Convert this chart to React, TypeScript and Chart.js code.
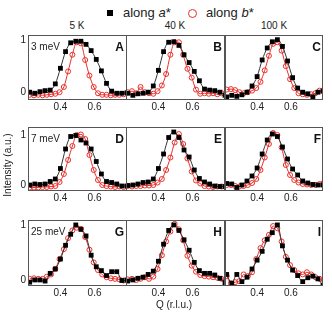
import React, { useEffect, useRef } from "react";
import { Chart, registerables } from "chart.js";
Chart.register(...registerables);

// Q grids (r.l.u.)
const qAlongA = [0.22, 0.25, 0.28, 0.31, 0.34, 0.37, 0.40, 0.43, 0.46, 0.49, 0.52, 0.55, 0.58, 0.61, 0.64, 0.67, 0.70, 0.73, 0.76, 0.79];
const qAlongB = [0.22, 0.245, 0.27, 0.295, 0.32, 0.345, 0.37, 0.395, 0.42, 0.445, 0.47, 0.495, 0.52, 0.545, 0.57, 0.595, 0.62, 0.645, 0.67, 0.695, 0.72, 0.745, 0.77, 0.795];

const temperatures = ["5 K", "40 K", "100 K"];
const energies = ["3 meV", "7 meV", "25 meV"];
const panelLetters = [["A", "B", "C"], ["D", "E", "F"], ["G", "H", "I"]];
const xTickValues = [0.4, 0.6];
const yTickValues = [0, 1];

// along a* (black squares)
const a3meV5K = [0.0, -0.02, 0.01, 0.03, 0.04, 0.16, 0.46, 0.78, 0.95, 0.98, 0.98, 0.92, 0.8, 0.63, 0.41, 0.17, 0.02, -0.02, -0.02, -0.01];
const a3meV40K = [-0.02, -0.06, -0.03, -0.02, 0.0, 0.12, 0.42, 0.78, 0.96, 0.97, 0.9, 0.72, 0.57, 0.4, 0.22, 0.06, 0.04, 0.03, 0.0, -0.06];
const a3meV100K = [-0.09, -0.06, -0.08, -0.05, 0.0, 0.12, 0.3, 0.62, 0.85, 0.97, 1.01, 0.88, 0.6, 0.28, 0.08, 0.0, -0.03, -0.09, 0.0, 0.02];
const a7meV5K = [0.0, 0.02, 0.01, 0.02, 0.07, 0.12, 0.33, 0.72, 0.97, 0.99, 0.9, 0.84, 0.72, 0.47, 0.22, 0.07, 0.05, 0.02, -0.02, -0.02];
const a7meV40K = [-0.01, 0.0, 0.02, 0.05, 0.06, 0.12, 0.33, 0.62, 0.95, 1.06, 0.95, 0.7, 0.56, 0.3, 0.13, 0.06, 0.02, -0.02, -0.03, -0.03];
const a7meV100K = [0.03, 0.02, -0.05, 0.0, 0.08, 0.18, 0.34, 0.62, 0.9, 1.02, 0.97, 0.76, 0.52, 0.32, 0.2, 0.08, 0.04, 0.01, 0.0, 0.0];
const a25meV5K = [-0.04, 0.0, 0.0, -0.02, 0.12, 0.2, 0.38, 0.63, 0.83, 1.0, 0.92, 0.8, 0.45, 0.24, 0.17, 0.08, 0.15, 0.15, -0.01, 0.0];
const a25meV40K = [-0.02, 0.0, 0.03, 0.05, 0.1, 0.16, 0.34, 0.65, 0.9, 1.0, 0.9, 0.73, 0.54, 0.32, 0.17, 0.12, 0.12, 0.09, 0.03, -0.05];
const a25meV100K = [0.1, -0.06, 0.1, -0.03, 0.05, 0.2, 0.36, 0.52, 0.74, 0.86, 1.0, 0.62, 0.36, 0.18, 0.08, -0.03, 0.04, 0.07, 0.02, -0.1];

// along b* (red open circles)
const b3meV5K = [-0.05, -0.06, -0.05, -0.06, -0.05, -0.04, -0.03, 0.0, 0.1, 0.4, 0.72, 0.96, 0.94, 0.62, 0.32, 0.1, -0.02, -0.05, -0.05, -0.06, -0.05, -0.05, -0.04, -0.02];
const b3meV40K = [0.0, 0.02, -0.02, 0.1, 0.0, -0.02, -0.03, 0.02, 0.13, 0.35, 0.72, 0.96, 0.96, 0.72, 0.45, 0.28, 0.05, -0.03, -0.02, -0.03, -0.02, -0.04, -0.02, -0.03];
const b3meV100K = [0.05, 0.06, 0.04, 0.0, -0.02, 0.0, 0.03, 0.08, 0.2, 0.42, 0.7, 0.93, 0.96, 0.8, 0.5, 0.25, 0.08, -0.02, -0.04, -0.05, -0.04, -0.02, 0.03, 0.05];
const b7meV5K = [-0.05, -0.05, -0.05, -0.04, -0.04, -0.03, -0.02, 0.06, 0.22, 0.5, 0.78, 1.0, 1.01, 0.92, 0.6, 0.3, 0.1, 0.0, -0.02, -0.03, -0.04, -0.03, -0.04, -0.03];
const b7meV40K = [-0.02, -0.03, -0.02, -0.02, -0.01, -0.01, 0.0, 0.05, 0.12, 0.3, 0.55, 0.85, 1.02, 0.82, 0.53, 0.27, 0.09, 0.03, -0.02, -0.03, -0.04, -0.03, -0.03, -0.02];
const b7meV100K = [0.0, 0.0, -0.02, -0.03, -0.02, 0.0, 0.04, 0.12, 0.3, 0.55, 0.82, 1.04, 1.0, 0.75, 0.4, 0.2, 0.1, 0.05, 0.02, 0.01, 0.0, 0.0, 0.02, 0.05];
const b25meV5K = [0.02, 0.03, 0.02, 0.02, 0.06, 0.1, 0.2, 0.38, 0.56, 0.76, 0.9, 0.95, 0.93, 0.78, 0.55, 0.32, 0.18, 0.1, 0.05, 0.03, 0.02, 0.01, -0.01, -0.02];
const b25meV40K = [0.01, 0.02, 0.0, 0.02, 0.05, 0.02, 0.06, 0.2, 0.45, 0.7, 0.88, 1.02, 0.92, 0.72, 0.44, 0.26, 0.15, 0.09, 0.07, 0.06, 0.05, 0.04, 0.02, 0.0];
const b25meV100K = [0.07, -0.06, -0.04, -0.02, 0.1, 0.07, 0.14, 0.38, 0.58, 0.72, 0.82, 0.98, 0.94, 0.7, 0.42, 0.27, 0.18, 0.12, 0.1, 0.14, 0.1, 0.05, 0.02, 0.0];

const alongASeries = [
  [a3meV5K, a3meV40K, a3meV100K],
  [a7meV5K, a7meV40K, a7meV100K],
  [a25meV5K, a25meV40K, a25meV100K],
];
const alongBSeries = [
  [b3meV5K, b3meV40K, b3meV100K],
  [b7meV5K, b7meV40K, b7meV100K],
  [b25meV5K, b25meV40K, b25meV100K],
];

const yMinByRow = [-0.15, -0.12, -0.11];
const yMaxByRow = [1.1, 1.16, 1.09];

// layout
const COL_LEFT = [28, 126, 225];
const COL_W = 98;
const ROW_TOP = [35, 127, 220];
const ROW_H = [65, 64, 66];
const Y_AXIS_W = 16;
const X_AXIS_H = 14;

const FONT = "'Liberation Sans', Arial, Helvetica, sans-serif";
const RED = "#e8302c";
const FRAME = "#555";

const framePlugin = {
  id: "frame",
  afterDraw(chart: any) {
    const { ctx, chartArea } = chart;
    ctx.save();
    ctx.strokeStyle = FRAME;
    ctx.lineWidth = 1;
    ctx.strokeRect(chartArea.left + 0.5, chartArea.top + 0.5, chartArea.right - chartArea.left - 1, chartArea.bottom - chartArea.top - 1);
    ctx.restore();
  },
};

const zeroPad = (s: any) => {
  s.paddingLeft = 0;
  s.paddingRight = 0;
  s.paddingTop = 0;
  s.paddingBottom = 0;
};

function Panel({ row, col }: { row: number; col: number }) {
  const ref = useRef<HTMLCanvasElement>(null);
  const showY = col === 0;
  const yW = showY ? Y_AXIS_W : 0;
  const w = COL_W + (col === 2 ? 0 : 1) + yW;
  const h = ROW_H[row] + X_AXIS_H;
  useEffect(() => {
    const a = alongASeries[row][col];
    const b = alongBSeries[row][col];
    const chart = new Chart(ref.current as HTMLCanvasElement, {
      type: "scatter",
      data: {
        datasets: [
          {
            data: qAlongA.map((x, i) => ({ x, y: a[i] })),
            showLine: true,
            borderColor: "#333",
            borderWidth: 1,
            pointStyle: "rect",
            pointRadius: 3.4,
            pointBackgroundColor: "#000",
            pointBorderColor: "#000",
            pointBorderWidth: 0,
            cubicInterpolationMode: "monotone",
            clip: 0,
          } as any,
          {
            data: qAlongB.map((x, i) => ({ x, y: b[i] })),
            showLine: true,
            borderColor: RED,
            borderWidth: 1,
            pointStyle: "circle",
            pointRadius: 2.5,
            pointBackgroundColor: "rgba(255,255,255,0)",
            pointBorderColor: RED,
            pointBorderWidth: 1,
            cubicInterpolationMode: "monotone",
            clip: 0,
          } as any,
        ],
      },
      options: {
        responsive: false,
        animation: false,
        events: [],
        layout: { padding: 0, autoPadding: false },
        plugins: { legend: { display: false }, tooltip: { enabled: false } },
        scales: {
          x: {
            type: "linear",
            min: 0.21,
            max: 0.79,
            grid: { display: false, drawTicks: false },
            border: { display: false },
            ticks: { font: { family: FONT, size: 10 }, color: "#222", padding: 1, maxRotation: 0, autoSkip: false },
            afterBuildTicks: (s: any) => {
              s.ticks = xTickValues.map((v) => ({ value: v }));
            },
            afterFit: (s: any) => {
              s.height = X_AXIS_H;
              zeroPad(s);
            },
          },
          y: {
            type: "linear",
            display: showY,
            min: yMinByRow[row],
            max: yMaxByRow[row],
            grid: { display: false, drawTicks: false },
            border: { display: false },
            ticks: { font: { family: FONT, size: 10 }, color: "#222", padding: 2, autoSkip: false },
            afterBuildTicks: (s: any) => {
              s.ticks = yTickValues.map((v) => ({ value: v }));
            },
            afterFit: (s: any) => {
              s.width = showY ? Y_AXIS_W : 0;
              zeroPad(s);
            },
          },
        },
      } as any,
      plugins: [framePlugin],
    });
    return () => chart.destroy();
  }, [row, col]);
  return (
    <canvas
      ref={ref}
      width={w}
      height={h}
      style={{ position: "absolute", left: COL_LEFT[col] - yW, top: ROW_TOP[row], width: w, height: h }}
    />
  );
}

const panelIndices = [0, 1, 2, 3, 4, 5, 6, 7, 8];

export default function App() {
  const txt: React.CSSProperties = { position: "absolute", fontFamily: FONT, color: "#222", whiteSpace: "nowrap", lineHeight: "12px" };
  return (
    <div style={{ position: "absolute", left: 0, top: 0, width: 332, height: 319, background: "#fff", overflow: "hidden" }}>
      {/* legend */}
      <div style={{ position: "absolute", left: 107, top: 10, width: 6, height: 6, background: "#000" }} />
      <div style={{ ...txt, left: 123, top: 6, fontSize: 13, lineHeight: "14px" }}>
        along <i>a</i>*
      </div>
      <div style={{ position: "absolute", left: 187.5, top: 8.5, width: 7, height: 7, borderRadius: "50%", border: `1.3px solid ${RED}` }} />
      <div style={{ ...txt, left: 206, top: 6, fontSize: 13, lineHeight: "14px" }}>
        along <i>b</i>*
      </div>
      {/* temperatures */}
      {temperatures.map((t, c) => (
        <div key={t} style={{ ...txt, left: COL_LEFT[c], width: COL_W, top: 20, fontSize: 10, textAlign: "center" }}>
          {t}
        </div>
      ))}
      {panelIndices.map((k) => (
        <Panel key={k} row={Math.floor(k / 3)} col={k % 3} />
      ))}
      {/* energies */}
      {energies.map((e, r) => (
        <div key={e} style={{ ...txt, left: 31, top: ROW_TOP[r] + 6, fontSize: 10 }}>
          {e}
        </div>
      ))}
      {/* panel letters */}
      {panelLetters.map((rowL, r) =>
        rowL.map((L, c) => (
          <div key={L} style={{ ...txt, left: COL_LEFT[c] + COL_W - 22, width: 20, top: ROW_TOP[r] + 5, fontSize: 12, fontWeight: "bold", textAlign: "right", lineHeight: "14px", color: "#111" }}>
            {L}
          </div>
        ))
      )}
      {/* axis titles */}
      <div style={{ ...txt, left: 8, top: 165, fontSize: 10, transform: "translate(-50%, -50%) rotate(-90deg)" }}>Intensity (a.u.)</div>
      <div style={{ ...txt, left: 174, top: 305, fontSize: 10, transform: "translate(-50%, -50%)" }}>Q (r.l.u.)</div>
    </div>
  );
}
